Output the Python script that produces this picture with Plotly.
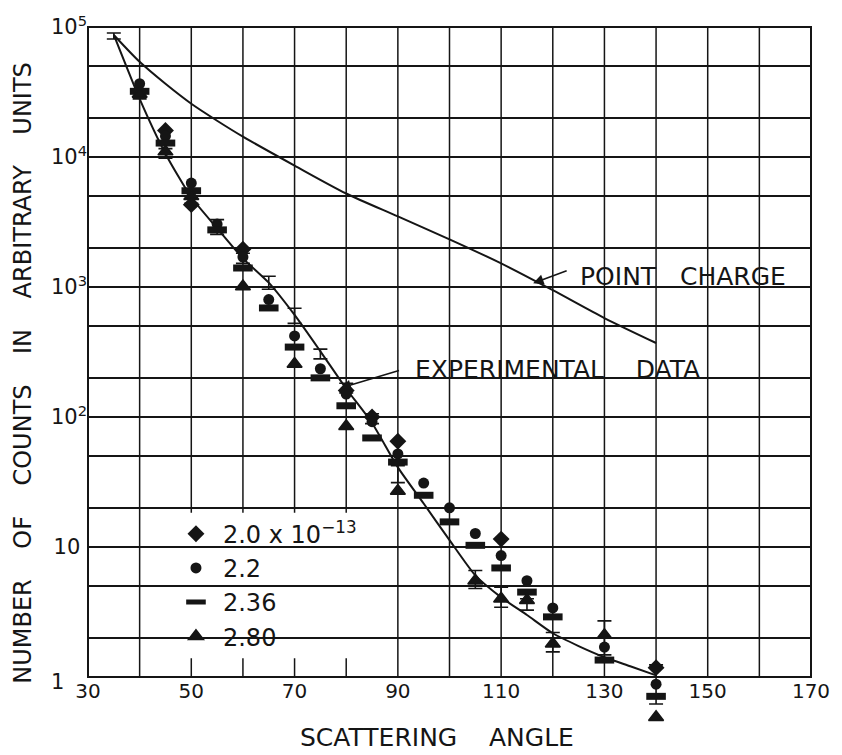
import math
import plotly.graph_objects as go

# ---------------- data ----------------
x_tickvals = [30, 40, 50, 60, 70, 80, 90, 100, 110, 120, 130, 140, 150, 160, 170]
x_ticktext = ["30", "", "50", "", "70", "", "90", "", "110", "", "130", "", "150", "", "170"]
y_tickvals = [1, 2, 5, 10, 20, 50, 100, 200, 500, 1000, 2000, 5000, 10000, 20000, 50000, 100000]
y_ticktext = ["1", "", "", "10\u00a0", "", "", "10<sup>2</sup>", "", "", "10<sup>3</sup>", "", "",
              "10<sup>4</sup>", "", "", "10<sup>5</sup>"]

# point-charge curve
pc_angle = [35, 40, 45, 50, 55, 60, 70, 80, 90, 100, 110, 120, 130, 140]
pc_value = [86800, 53950, 36550, 25670, 19010, 14340, 8590, 5240, 3490, 2326, 1520, 945, 577, 371]

# experimental curve
exp_curve_angle = [35, 40, 45, 50, 55, 60, 65, 70, 75, 80, 85, 90, 95, 100, 105, 110, 115, 120, 125, 130, 135, 140]
exp_curve_value = [86800, 28000, 10600, 4900, 2830, 1660, 1080, 610, 320, 165, 90, 41, 21.6, 11.3, 6.05, 4.1, 3.0,
                   2.17, 1.73, 1.42, 1.21, 1.03]

# experimental points with error bars
exp_angle = [35, 40, 45, 50, 55, 60, 65, 70, 75, 80, 85, 90, 105, 110, 115, 120, 130, 140]
exp_value = [85000, 29500, 10700, 4700, 2900, 1660, 1080, 600, 305, 167, 97, 36, 5.6, 4.1, 3.6, 1.85, 2.0, 0.88]
exp_low = [80900, 28000, 9800, 4400, 2540, 1520, 960, 525, 280, 153, 89, 31.3, 4.8, 3.44, 3.27, 1.56, 1.48, 0.62]
exp_high = [90000, 31200, 11600, 5000, 3300, 1820, 1210, 687, 333, 182, 106, 42.3, 6.6, 4.9, 4.0, 2.2, 2.7, 1.24]

# calculated points for the four radii
r20_angle = [45, 50, 60, 80, 85, 90, 110, 140]
r20_value = [16000, 4300, 1950, 160, 100, 65, 11.5, 1.18]

r22_angle = [40, 45, 50, 55, 60, 65, 70, 75, 80, 85, 90, 95, 100, 105, 110, 115, 120, 130, 140]
r22_value = [36600, 14500, 6300, 3050, 1700, 800, 420, 235, 150, 92, 52, 31, 20, 12.7, 8.6, 5.5, 3.4, 1.7, 0.88]

r236_angle = [40, 45, 50, 55, 60, 65, 70, 75, 80, 85, 90, 95, 100, 105, 110, 115, 120, 130, 140]
r236_value = [32000, 12800, 5500, 2750, 1400, 690, 345, 200, 122, 69, 45, 25, 15.6, 10.3, 6.9, 4.5, 2.9, 1.35, 0.71]

r280_angle = [40, 45, 50, 60, 70, 80, 90, 105, 110, 115, 120, 130, 140]
r280_value = [30500, 11000, 5000, 1010, 256, 85, 27, 5.5, 4.0, 3.9, 1.8, 2.1, 0.49]

series_names = ["2.0 x 10<sup>\u221213</sup>", "2.2", "2.36", "2.80"]

# ---------------- figure ----------------
INK = "#151515"
FONT = "DejaVu Sans"
Y_LOW = -0.4                      # log10 of lower y limit (room for points hanging below the frame)
P1 = -Y_LOW / (5 - Y_LOW)         # paper height of the y = 1 line

fig = go.Figure()

fig.add_trace(go.Scatter(x=pc_angle, y=pc_value, mode="lines", showlegend=False, xaxis="x2",
                         line=dict(color=INK, width=2, shape="spline", smoothing=0.8),
                         hoverinfo="skip", cliponaxis=False))
fig.add_trace(go.Scatter(x=exp_curve_angle, y=exp_curve_value, mode="lines", showlegend=False,
                         line=dict(color=INK, width=2, shape="spline", smoothing=0.6),
                         hoverinfo="skip", cliponaxis=False))
fig.add_trace(go.Scatter(
    x=exp_angle, y=exp_value, mode="markers", showlegend=False,
    marker=dict(size=1, color="rgba(0,0,0,0)"),
    error_y=dict(type="data", symmetric=False,
                 array=[h - v for h, v in zip(exp_high, exp_value)],
                 arrayminus=[v - l for v, l in zip(exp_value, exp_low)],
                 width=7, thickness=1.6, color=INK),
    cliponaxis=False))

marker_styles = [
    dict(symbol="diamond", size=13, color=INK, line=dict(width=0)),
    dict(symbol="circle", size=11, color=INK, line=dict(width=0)),
    dict(symbol="line-ew", size=14, color=INK, line=dict(width=7, color=INK)),
    dict(symbol="triangle-up", size=13, color=INK, line=dict(width=1.5, color=INK)),
]
series = [(r20_angle, r20_value), (r22_angle, r22_value), (r236_angle, r236_value), (r280_angle, r280_value)]
for i, ((xa, ya), name) in enumerate(zip(series, series_names)):
    fig.add_trace(go.Scatter(x=xa, y=ya, mode="markers", name=name, legendgroup=f"g{i}",
                             marker=marker_styles[i], cliponaxis=False))

# vertical grid lines (only down to the y = 1 line)
for xv in x_tickvals[1:-1]:
    fig.add_shape(type="line", xref="x", yref="paper", x0=xv, x1=xv, y0=P1, y1=1,
                  line=dict(width=1.5, color=INK), layer="between")
# white box behind legend, then frame
fig.add_shape(type="rect", xref="paper", yref="paper", x0=0.112, x1=0.3995, y0=0.1009, y1=0.3082,
              fillcolor="white", line=dict(width=0), layer="between")
fig.add_shape(type="rect", xref="paper", yref="paper", x0=0, x1=1, y0=P1, y1=1,
              fillcolor="rgba(0,0,0,0)", line=dict(width=2, color=INK), layer="between")

# labels and arrows
fig.add_annotation(x=124.8, y=math.log10(1211), text="POINT\u00a0\u00a0 CHARGE", showarrow=False,
                   xanchor="left", yanchor="middle", font=dict(family=FONT, size=25, color=INK))
fig.add_annotation(x=116.2, y=math.log10(1070), text="", showarrow=True, ax=35, ay=-13,
                   arrowhead=2, arrowsize=1.3, arrowwidth=1.6, arrowcolor=INK)
fig.add_annotation(x=93.0, y=math.log10(234), text="EXPERIMENTAL\u00a0\u00a0\u00a0 DATA", showarrow=False,
                   xanchor="left", yanchor="middle", font=dict(family=FONT, size=25, color=INK))
fig.add_annotation(x=78.9, y=math.log10(167), text="", showarrow=True, ax=60, ay=-18,
                   arrowhead=2, arrowsize=1.3, arrowwidth=1.6, arrowcolor=INK)

# the "1" label of the y axis sits further left in the original lettering
fig.add_annotation(xref="paper", x=-0.042, y=math.log10(y_tickvals[0]) - 0.04, text=y_ticktext[0],
                   showarrow=False, xanchor="center", yanchor="middle",
                   font=dict(family=FONT, size=21, color=INK))
y_ticktext_axis = [""] + y_ticktext[1:]

# axis titles
fig.add_annotation(xref="paper", yref="paper", x=-0.0903, y=0.507, textangle=-90,
                   text="NUMBER\u00a0\u00a0\u00a0 OF\u00a0\u00a0\u00a0 COUNTS\u00a0\u00a0\u00a0 IN\u00a0\u00a0\u00a0 ARBITRARY\u00a0\u00a0\u00a0 UNITS",
                   showarrow=False, xanchor="center", yanchor="middle",
                   font=dict(family=FONT, size=24, color=INK))
fig.add_annotation(xref="paper", yref="paper", x=0.483, y=-0.0128,
                   text="SCATTERING\u00a0\u00a0\u00a0 ANGLE", showarrow=False,
                   xanchor="center", yanchor="middle", font=dict(family=FONT, size=25, color=INK))

fig.update_layout(
    width=842, height=755, autosize=False,
    margin=dict(l=88, r=23, t=25, b=26),
    paper_bgcolor="white", plot_bgcolor="white",
    font=dict(family=FONT, color=INK),
    showlegend=True,
    xaxis=dict(range=[30, 170], tickvals=x_tickvals, showticklabels=False,
               showgrid=False, zeroline=False, showline=False, ticks=""),
    xaxis2=dict(range=[30, 170], overlaying="x", anchor="free", position=P1, side="bottom",
                tickvals=x_tickvals, ticktext=x_ticktext, showgrid=False, zeroline=False,
                showline=False, ticks="", tickfont=dict(family=FONT, size=20, color=INK)),
    yaxis=dict(type="log", range=[Y_LOW, 5], tickvals=y_tickvals, ticktext=y_ticktext_axis,
               showgrid=True, gridcolor=INK, gridwidth=1.5, zeroline=False, showline=False, ticks="",
               tickfont=dict(family=FONT, size=21, color=INK)),
    legend=dict(x=0.112, y=0.3097, xanchor="left", yanchor="top", bgcolor="rgba(0,0,0,0)",
                font=dict(family=FONT, size=24, color=INK), itemwidth=44, tracegroupgap=0,
                borderwidth=0),
)

fig.write_html("out.html", post_script="document.body.style.margin='0';",
               config={"displayModeBar": False})
